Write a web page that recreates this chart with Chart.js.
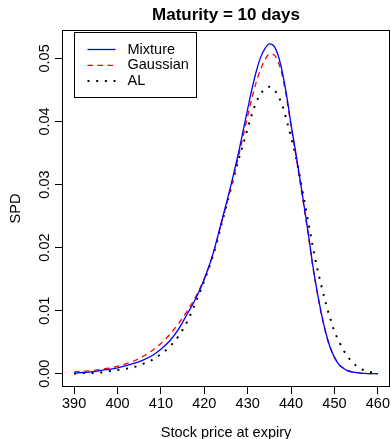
<!DOCTYPE html>
<html>
<head>
<meta charset="utf-8">
<script src="https://cdn.jsdelivr.net/npm/chart.js@4.4.1/dist/chart.umd.min.js"></script>
<style>
  html, body { margin: 0; padding: 0; background: #fff; }
  canvas { display: block; }
</style>
</head>
<body>
<canvas id="spdChart" width="391" height="439"></canvas>
<script>
// stock price grid (x) and the three densities
const prices = [390, 392, 394, 396, 398, 400, 402, 404, 406, 408, 410, 412, 414, 416, 418, 420,
  422, 424, 426, 428, 429, 430, 431, 432, 433, 434, 435, 436, 437, 438, 439, 440, 441, 442, 443,
  444, 445, 446, 447, 448, 449, 450, 451, 452, 453, 454, 455, 456, 457, 458, 460];

const mixture = [0.0001, 0.0002, 0.0003, 0.0005, 0.0007, 0.00095, 0.0013, 0.0017, 0.0022, 0.0029,
  0.0039, 0.0052, 0.0070, 0.0094, 0.0119, 0.0150, 0.0190, 0.0242, 0.0295, 0.0354, 0.0387, 0.0420,
  0.0452, 0.0480, 0.0502, 0.0516, 0.0523, 0.0520, 0.0505, 0.0478, 0.0440, 0.0395, 0.0354, 0.0311,
  0.0266, 0.0221, 0.0172, 0.0131, 0.0095, 0.0065, 0.0042, 0.0026, 0.0015, 0.0009, 0.0005, 0.0003,
  0.0002, 0.0001, 0.00005, 0.00003, 0.0];

const gaussian = [0.0003, 0.0004, 0.0005, 0.0007, 0.0009, 0.0012, 0.0016, 0.0021, 0.0028, 0.0037,
  0.0048, 0.0062, 0.0079, 0.0099, 0.0122, 0.0151, 0.0189, 0.0240, 0.0291, 0.0348, 0.0378, 0.0409,
  0.0438, 0.0463, 0.0483, 0.0498, 0.0507, 0.0506, 0.0495, 0.0472, 0.0436, 0.0392, 0.0350, 0.0307,
  0.0263, 0.0218, 0.0170, 0.0129, 0.0094, 0.0064, 0.0042, 0.0026, 0.0015, 0.0009, 0.0005, 0.0003,
  0.0002, 0.0001, 0.00005, 0.00003, 0.0];

const al = [0.0000, 0.0001, 0.0001, 0.0002, 0.0004, 0.0006, 0.0008, 0.0011, 0.0016, 0.0022,
  0.0031, 0.0043, 0.0059, 0.0082, 0.0113, 0.0148, 0.0187, 0.0238, 0.0290, 0.0342, 0.0365, 0.0389,
  0.0412, 0.0431, 0.0444, 0.0452, 0.0455, 0.0451, 0.0441, 0.0425, 0.0401, 0.0375, 0.0347, 0.0313,
  0.0276, 0.0239, 0.0202, 0.0168, 0.0139, 0.0112, 0.0088, 0.0067, 0.0052, 0.0038, 0.0028, 0.0019,
  0.0013, 0.0008, 0.0005, 0.0003, 0.0001];

const xTicks = [390, 400, 410, 420, 430, 440, 450, 460];
const yTicks = [0.00, 0.01, 0.02, 0.03, 0.04, 0.05];

const chartTitle = 'Maturity = 10 days';
const FONT = '"Liberation Sans", Arial, Helvetica, sans-serif';

const toPoints = ys => prices.map((x, i) => ({ x: x, y: ys[i] }));

// white background, box around the plot, title and the inset legend
const framePlugin = {
    id: 'frame',
    beforeDraw(chart) {
        const ctx = chart.ctx;
        ctx.save();
        ctx.fillStyle = '#fff';
        ctx.fillRect(0, 0, chart.width, chart.height);
        ctx.restore();
    },
    afterDraw(chart) {
        const ctx = chart.ctx;
        const a = chart.chartArea;
        ctx.save();
        ctx.strokeStyle = '#000';
        ctx.lineWidth = 1;
        ctx.strokeRect(Math.round(a.left) + 0.5, Math.round(a.top) + 0.5,
            Math.round(a.right - a.left) - 1, Math.round(a.bottom - a.top) - 1);

        ctx.fillStyle = '#000';
        ctx.font = 'bold 17px ' + FONT;
        ctx.textAlign = 'center';
        ctx.textBaseline = 'middle';
        ctx.fillText(chartTitle, (a.left + a.right) / 2, 15);

        // legend
        const lx = 74.5, ly = 32.5, lw = 122, lh = 65;
        ctx.fillStyle = '#fff';
        ctx.fillRect(lx, ly, lw, lh);
        ctx.strokeStyle = '#000';
        ctx.strokeRect(lx, ly, lw, lh);
        ctx.font = '14.5px ' + FONT;
        ctx.textAlign = 'left';
        chart.data.datasets.forEach((ds, i) => {
            const y = 49.5 + i * 15.8;
            ctx.save();
            ctx.strokeStyle = ds.borderColor;
            ctx.lineWidth = ds.borderWidth;
            ctx.setLineDash(ds.borderDash || []);
            ctx.beginPath();
            ctx.moveTo(87.5, y);
            ctx.lineTo(115.5, y);
            ctx.stroke();
            ctx.restore();
            ctx.fillStyle = '#000';
            ctx.fillText(ds.label, 127.5, y);
        });
        ctx.restore();
    }
};

new Chart(document.getElementById('spdChart'), {
    type: 'line',
    data: {
        datasets: [
            { label: 'Mixture', data: toPoints(mixture), borderColor: '#0000ff', borderWidth: 1.3 },
            { label: 'Gaussian', data: toPoints(gaussian), borderColor: '#ff0000', borderWidth: 1.3, borderDash: [5.5, 4.5] },
            { label: 'AL', data: toPoints(al), borderColor: '#000000', borderWidth: 2, borderDash: [2, 6.7] }
        ]
    },
    options: {
        responsive: false,
        animation: false,
        devicePixelRatio: 1,
        layout: { padding: { top: 30, right: 1, left: 0, bottom: 0 } },
        elements: {
            point: { radius: 0 },
            line: { cubicInterpolationMode: 'monotone', fill: false }
        },
        plugins: {
            legend: { display: false },
            tooltip: { enabled: false }
        },
        scales: {
            x: {
                type: 'linear',
                min: 387.2,
                max: 462.8,
                afterBuildTicks: s => { s.ticks = xTicks.map(v => ({ value: v })); },
                afterFit: s => { s.height = 52; },
                border: { display: false },
                grid: { drawOnChartArea: false, drawTicks: true, tickLength: 7, color: '#000' },
                ticks: {
                    color: '#000', padding: 1, maxRotation: 0,
                    font: { family: FONT, size: 14.5 },
                    callback: v => String(v)
                },
                title: {
                    display: true, text: 'Stock price at expiry', color: '#000',
                    font: { family: FONT, size: 14.5 },
                    padding: { top: 0, bottom: -2.7 }
                }
            },
            y: {
                type: 'linear',
                min: -0.0021,
                max: 0.0545,
                afterBuildTicks: s => { s.ticks = yTicks.map(v => ({ value: v })); },
                afterFit: s => { s.width = 62; },
                border: { display: false },
                grid: { drawOnChartArea: false, drawTicks: true, tickLength: 7, color: '#000' },
                ticks: {
                    color: '#000', padding: -4.5, minRotation: 90, maxRotation: 90,
                    crossAlign: 'center',
                    font: { family: FONT, size: 14.5 },
                    callback: v => v.toFixed(2)
                },
                title: {
                    display: true, text: 'SPD', color: '#000',
                    font: { family: FONT, size: 14.5 },
                    padding: { top: 7.3, bottom: 0 }
                }
            }
        }
    },
    plugins: [framePlugin]
});
</script>
</body>
</html>
